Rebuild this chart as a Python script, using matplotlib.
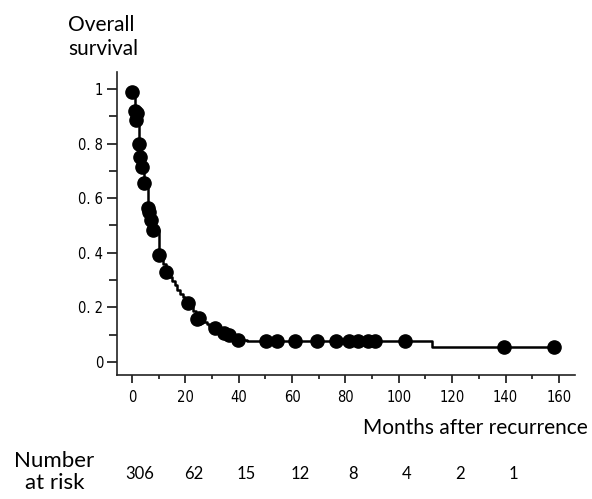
import matplotlib
matplotlib.use("Agg")
import matplotlib.pyplot as plt
from matplotlib.ticker import MultipleLocator, FixedLocator

# step curve knots (months, survival)
curve_months = [0, 1.2, 1.4, 2.6, 3.2, 3.9, 4.5, 6.1, 7.0, 8.0, 10.1, 11.5, 12.9,
                14, 15, 16, 17, 18, 19, 20, 21.0, 22, 23, 24, 25.2, 26, 27, 28, 29,
                30, 31.1, 32, 33, 34.6, 36.4, 38, 39.6, 41, 43, 112.6, 158.5]
curve_surv = [1.0, 0.93, 0.9, 0.80, 0.75, 0.715, 0.657, 0.563, 0.518, 0.484, 0.392,
              0.36, 0.331, 0.31, 0.295, 0.28, 0.265, 0.25, 0.237, 0.225, 0.215,
              0.2, 0.186, 0.172, 0.16, 0.152, 0.145, 0.139, 0.133, 0.128, 0.123,
              0.118, 0.113, 0.105, 0.099, 0.09, 0.082, 0.079, 0.075, 0.054, 0.054]

# censor markers
censor_months = [0, 1.2, 1.8, 1.4, 2.6, 3.2, 3.9, 4.5, 6.1, 6.5, 7.0, 8.0, 10.1, 12.9,
                 21.0, 24.5, 25.2, 31.1, 34.6, 36.4, 39.6, 50.4, 54.3, 61.1, 69.4,
                 76.5, 81.5, 84.6, 88.4, 91.2, 102.5, 139.3, 158.2]
censor_surv = [0.99, 0.92, 0.91, 0.885, 0.80, 0.75, 0.715, 0.657, 0.563, 0.55, 0.518,
               0.484, 0.392, 0.331, 0.215, 0.157, 0.16, 0.123, 0.105, 0.099, 0.081,
               0.075, 0.075, 0.075, 0.075, 0.075, 0.075, 0.075, 0.075, 0.075, 0.075,
               0.054, 0.054]

risk_months = [0, 20, 40, 60, 80, 100, 120, 140]
risk_counts = [306, 62, 15, 12, 8, 4, 2, 1]

x_ticks = [0, 20, 40, 60, 80, 100, 120, 140, 160]
y_ticks = [0, 0.2, 0.4, 0.6, 0.8, 1.0]
y_labels = ["0", "0. 2", "0. 4", "0. 6", "0. 8", "1"]

label_font = "Lato"
tick_font = {"family": "DejaVu Sans", "stretch": "condensed", "size": 10.5}

fig = plt.figure(figsize=(5.92, 4.99), dpi=100, facecolor="white")
ax = fig.add_axes([0.1976, 0.2485, 0.7736, 0.6072])
ax.set_xlim(-5.6, 166)
ax.set_ylim(-0.048, 1.062)

ax.plot(curve_months, curve_surv, drawstyle="steps-post", color="black",
        linewidth=1.8, zorder=2)
ax.plot(censor_months, censor_surv, "o", color="black", markersize=9.5, zorder=3)

for side in ("top", "right"):
    ax.spines[side].set_visible(False)
for side in ("left", "bottom"):
    ax.spines[side].set_linewidth(1.2)
    ax.spines[side].set_color("#222222")

ax.xaxis.set_major_locator(FixedLocator(x_ticks))
ax.xaxis.set_minor_locator(MultipleLocator(10))
ax.yaxis.set_major_locator(FixedLocator(y_ticks))
ax.yaxis.set_minor_locator(MultipleLocator(0.1))
ax.set_xticklabels([str(t) for t in x_ticks], fontdict=tick_font)
ax.set_yticklabels(y_labels, fontdict=tick_font)
ax.tick_params(axis="x", which="major", direction="out", length=6, width=1.1, pad=5)
ax.tick_params(axis="x", which="minor", direction="out", length=3, width=1.1)
ax.tick_params(axis="y", which="major", direction="out", length=7, width=1.1, pad=3)
ax.tick_params(axis="y", which="minor", direction="out", length=6, width=1.1)

fig.text(0.993, 0.143, "Months after recurrence", ha="right", va="center",
         fontsize=15, family=label_font)
fig.text(0.115, 0.926, "Overall\nsurvival", ha="left", va="center",
         fontsize=15, family=label_font, linespacing=1.25)
fig.text(0.092, 0.054, "Number\nat risk", ha="center", va="center",
         fontsize=16, family=label_font, linespacing=1.1)

for m, n in zip(risk_months, risk_counts):
    ax.text(m + 3, -0.41, str(n), ha="center", va="center",
            fontsize=12, family=label_font)

fig.savefig("out.png", dpi=100, facecolor="white")
